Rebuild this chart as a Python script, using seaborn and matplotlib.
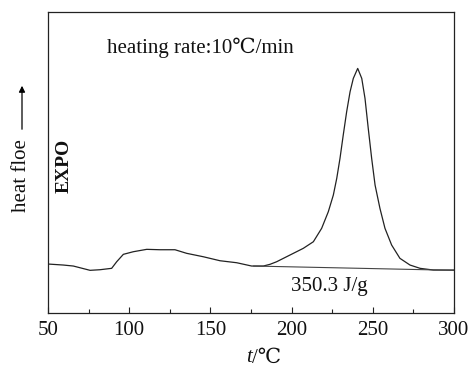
import matplotlib
matplotlib.use("Agg")
import matplotlib.pyplot as plt
import seaborn as sns
import pandas as pd
from matplotlib.ticker import MultipleLocator
from matplotlib.patches import FancyArrowPatch

# Data (temperature in ℃, heat flow in arbitrary units)
temperature = [50, 59.4, 65.6, 75.9, 82.0, 89.2, 92.3, 96.4, 102.5, 110.8, 119.0, 128.2,
               135.4, 145.6, 155.9, 166.2, 175.4, 182.6, 186.7, 190.8, 199.0, 207.2,
               213.4, 218.5, 222.6, 225.7, 227.8, 229.8, 231.8, 233.9, 236.0, 238.0,
               240.7, 243.2, 245.2, 247.2, 249.3, 251.4, 254.4, 257.5, 261.6, 266.7,
               272.9, 279.1, 287.3, 295.5, 300]
heat_flow = [49, 48, 47, 42.7, 43.3, 44.7, 51.3, 58.7, 61.3, 63.7, 63.3, 63.3,
             59.7, 56.3, 52.3, 50.3, 47, 47, 48.7, 51.3, 58, 64.7,
             71.3, 84.7, 101.3, 118, 134.7, 154.7, 178, 201.3, 221.3, 234.7,
             244.7, 234.7, 214.7, 184.7, 154.7, 128, 104.7, 84.7, 68, 54.7,
             48, 44.7, 43, 43, 43]
baseline_t = [176.5, 300]
baseline_h = [47, 42.7]
x_ticks = [50, 100, 150, 200, 250, 300]

sns.set_style("white")
fam = ['Liberation Serif', 'DejaVu Serif', 'Noto Sans CJK SC', 'DejaVu Sans']
plt.rcParams['font.family'] = fam

fig = plt.figure(figsize=(4.71, 3.71), dpi=100)
ax = fig.add_axes([0.1019, 0.1563, 0.862, 0.811])

df = pd.DataFrame({"t": temperature, "h": heat_flow})
sns.lineplot(data=df, x="t", y="h", ax=ax, color="#222222", linewidth=0.9, estimator=None, sort=False)
bl = pd.DataFrame({"t": baseline_t, "h": baseline_h})
sns.lineplot(data=bl, x="t", y="h", ax=ax, color="#444444", linewidth=0.8, estimator=None, sort=False)

ax.set_xlim(50, 300)
ax.set_ylim(0, 301)
ax.set_xticks(x_ticks)
ax.set_xticklabels([str(v) for v in x_ticks], fontsize=15, color='#111111')
ax.xaxis.set_minor_locator(MultipleLocator(25))
ax.tick_params(axis='x', which='major', direction='in', length=4, width=0.8, pad=6, color='#222222', bottom=True)
ax.tick_params(axis='x', which='minor', direction='in', length=3, width=0.8, color='#222222', bottom=True)
ax.set_yticks([])
for s in ax.spines.values():
    s.set_color('#222222')
    s.set_linewidth(0.9)

ax.set_xlabel("")
ax.set_ylabel("")

# x label: italic t + /℃
fig.text(252/471, 1 - 358/371, "t", fontsize=15, style='italic', ha='right', va='center', color='#111111')
fig.text(252/471, 1 - 358/371, "/℃", fontsize=15, ha='left', va='center', color='#111111')

ax.text(86.3, 265, "heating rate:10℃/min", fontsize=15, ha='left', va='center', color='#111111')
ax.text(0.598, 0.087, "350.3 J/g", fontsize=15, transform=ax.transAxes, ha='left', va='center', color='#111111')
ax.text(0.04, 0.49, "EXPO", fontsize=14, fontweight='bold', rotation=90,
        transform=ax.transAxes, ha='center', va='center', color='#111111')

# y label with arrow
fig.text(22/471, 1 - 176/371, "heat floe", fontsize=15, rotation=90, ha='center', va='center', color='#111111')
fig.add_artist(FancyArrowPatch((22/471, 1 - 132/371), (22/471, 1 - 83/371),
               transform=fig.transFigure, arrowstyle='-|>', mutation_scale=9, color='black', linewidth=0.9))

fig.savefig("out.png", dpi=100)
